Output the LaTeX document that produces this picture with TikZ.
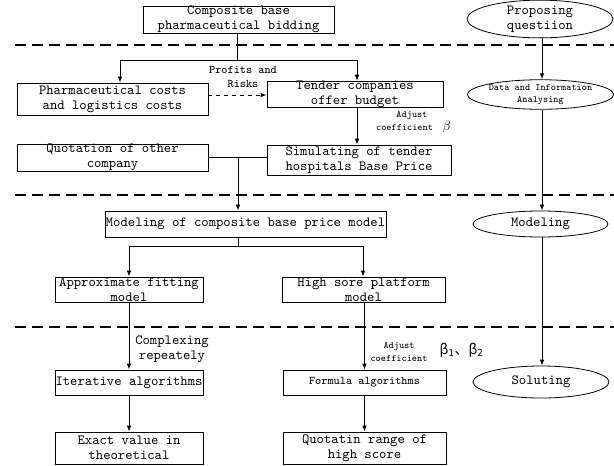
\documentclass[tikz,border=0pt]{standalone}
\usepackage{fontspec}
\newfontfamily\cjk{Noto Sans CJK SC}
\usetikzlibrary{arrows.meta,shapes.geometric}
\begin{document}
\begin{tikzpicture}[x=0.75pt,y=-0.75pt,
  font=\ttfamily\fontsize{10.5}{11.25}\selectfont,
  box/.style={draw,line width=0.6pt,inner sep=0pt,align=center},
  oval/.style={draw,ellipse,line width=0.6pt,inner sep=0pt,align=center},
  arr/.style={-{Latex[length=4.5pt,width=3.5pt]},line width=0.7pt},
  link/.style={line width=0.7pt},
  sep/.style={line width=1.8pt,dash pattern=on 8.25pt off 4.5pt},
  small/.style={font=\ttfamily\fontsize{7.3}{9.5}\selectfont,align=center},
  mid/.style={font=\ttfamily\fontsize{8.8}{10.5}\selectfont,align=center}]
  \useasboundingbox (0,0) rectangle (614,465);
  \draw[sep] (15,45) -- (614,45);
  \draw[sep] (15,195) -- (614,195);
  \draw[sep] (15,327) -- (614,327);
  \node[box,minimum width=191*.75pt,minimum height=25*.75pt] (bidding) at (238.5,19.5) {Composite base\\pharmaceutical bidding};
  \node[box,minimum width=191*.75pt,minimum height=32*.75pt] (costs) at (112.5,99) {Pharmaceutical costs\\and logistics costs};
  \node[box,minimum width=176*.75pt,minimum height=25*.75pt] (budget) at (355,94.5) {Tender companies\\offer budget};
  \node[box,minimum width=191*.75pt,minimum height=25*.75pt] (quotation) at (112.5,157.5) {Quotation of other\\company};
  \node[box,minimum width=184*.75pt,minimum height=30*.75pt] (baseprice) at (359,160) {Simulating of tender\\hospitals Base Price};
  \node[box,minimum width=281*.75pt,minimum height=26*.75pt] (model) at (245.5,224) {Modeling of composite base price model};
  \node[box,minimum width=148*.75pt,minimum height=25*.75pt] (fitting) at (129,289.5) {Approximate fitting\\model};
  \node[box,minimum width=163*.75pt,minimum height=25*.75pt] (platform) at (363.5,289.5) {High sore platform\\model};
  \node[box,minimum width=148*.75pt,minimum height=25*.75pt] (iterative) at (129,382.5) {Iterative algorithms};
  \node[box,minimum width=163*.75pt,minimum height=25*.75pt,mid] (formula) at (364.5,382.5) {Formula algorithms};
  \node[box,minimum width=148*.75pt,minimum height=32*.75pt] (exact) at (129,448) {Exact value in\\theoretical};
  \node[box,minimum width=163*.75pt,minimum height=32*.75pt] (range) at (364.5,448) {Quotatin range of\\high score};
  \node[oval,minimum width=146*.75pt,minimum height=28*.75pt] (propose) at (540,19) {Proposing\\questiion};
  \node[oval,minimum width=146*.75pt,minimum height=26*.75pt,small] (analyse) at (540.5,94.5) {Data and Information\\Analysing};
  \node[oval,minimum width=135*.75pt,minimum height=26*.75pt] (modeling) at (540.5,224) {Modeling};
  \node[oval,minimum width=136*.75pt,minimum height=32*.75pt] (soluting) at (541,382) {Soluting};
  \node[mid] (risks) at (243,77) {Profits and\\Risks};
  \node[small] (adjust) at (412,122) {Adjust\\coefficient\quad\rlap{\fontsize{10}{10}\selectfont$\beta$}\phantom{x}};
  \node[align=center] (complex) at (172,349) {Complexing\\repeately};
  \node[small] (adjusttwo) at (399,352) {Adjust\\coefficient};
  \node[anchor=west] (betas) at (435,350) {\cjk β\textsubscript{1}、β\textsubscript{2}};
  \coordinate (forkl) at (120,60);
  \coordinate (forkr) at (357,60);
  \coordinate (join) at (238,157.5);
  \coordinate (split) at (238,246);
  \coordinate (splitl) at (129,246);
  \coordinate (splitr) at (363,246);
  \draw[link] (bidding.south -| 237,0) -- (237,60);
  \draw[link] (forkl) -- (forkr);
  \draw[arr] (forkl) -- (forkl |- costs.north);
  \draw[arr] (forkr) -- (forkr |- budget.north);
  \draw[arr,dashed] (costs.east |- 0,95) -- (budget.west |- 0,95);
  \draw[arr] (forkr |- budget.south) -- (forkr |- baseprice.north);
  \draw[link] (quotation.east) -- (quotation.east -| baseprice.west);
  \draw[arr] (join) -- (join |- model.north);
  \draw[link] (split |- model.south) -- (split);
  \draw[link] (splitl) -- (splitr);
  \draw[arr] (splitl) -- (fitting.north);
  \draw[arr] (splitr) -- (splitr |- platform.north);
  \draw[arr] (fitting) -- (iterative);
  \draw[arr] (iterative) -- (exact);
  \draw[arr] (platform.south -| formula) -- (formula);
  \draw[arr] (formula) -- (range);
  \draw[arr] (propose.south -| 542,0) -- (542,0 |- analyse.north);
  \draw[arr] (analyse.south -| 542,0) -- (542,0 |- modeling.north);
  \draw[arr] (modeling.south -| 542,0) -- (542,0 |- soluting.north);
\end{tikzpicture}
\end{document}
